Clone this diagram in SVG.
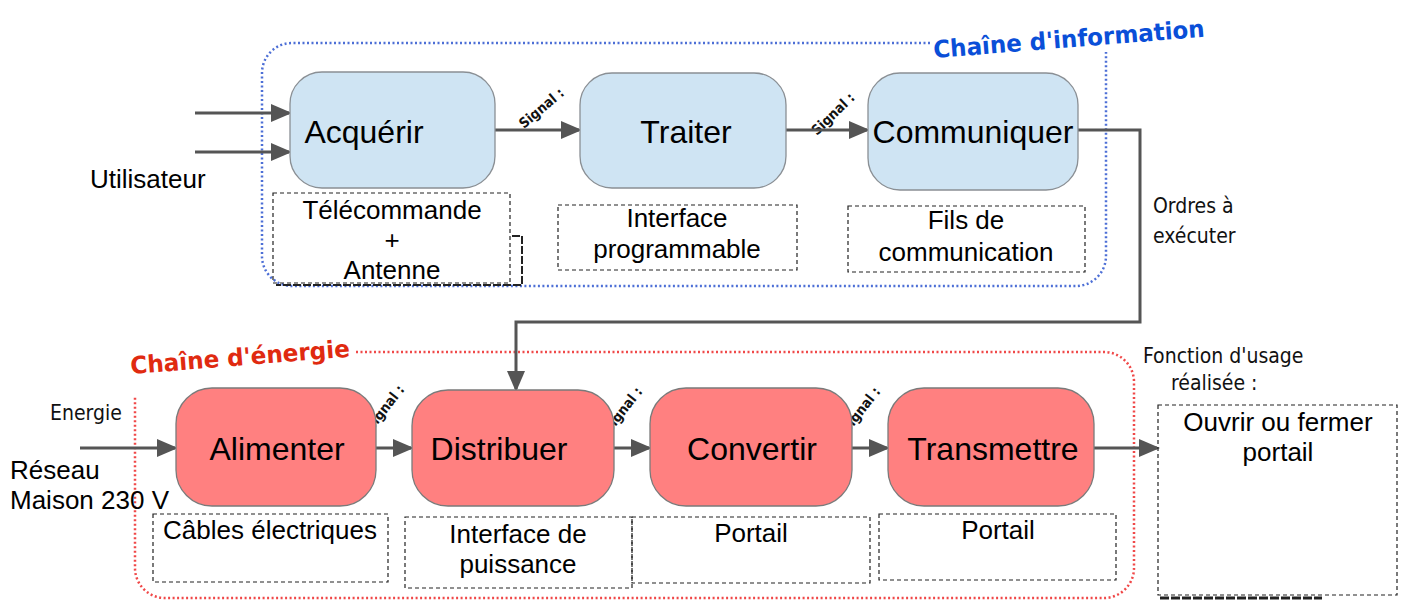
<svg xmlns="http://www.w3.org/2000/svg" width="1404" height="604" viewBox="0 0 1404 604">
<style>
.t{font-family:"Liberation Sans",Arial,sans-serif;fill:#000}
.nl{font-size:32px;text-anchor:middle}
.sl{font-size:26px;text-anchor:middle}
.px{font-family:"Liberation Sans Narrow","DejaVu Sans Condensed","Liberation Sans",sans-serif;font-size:21px;fill:#111}
.sig{font-family:"Liberation Sans Narrow","DejaVu Sans Condensed",sans-serif;font-size:14px;font-weight:bold;fill:#111}
.blue{fill:#cfe4f3;stroke:#8a8f94;stroke-width:1.3}
.red{fill:#ff8080;stroke:#7a7a7a;stroke-width:1.3}
.box{fill:none;stroke:#222;stroke-width:1.2;stroke-dasharray:4 3}
.wire{fill:none;stroke:#555;stroke-width:3}
.title{font-family:"DejaVu Sans Condensed","DejaVu Sans",sans-serif;font-weight:bold;font-size:24px}
</style>
<defs>
<marker id="ah" markerWidth="7" markerHeight="6" refX="6" refY="3" orient="auto" markerUnits="strokeWidth">
<path d="M0,0 L7,3 L0,6 Z" fill="#555"/>
</marker>
</defs>

<!-- chain boundaries -->
<g id="chaine-information">
<path d="M930,43 H292 A30,30 0 0 0 262,73 V256 A30,30 0 0 0 292,286 H1076 A30,30 0 0 0 1106,256 V52" fill="none" stroke="#4d6fd6" stroke-width="2.5" stroke-dasharray="2 2.5"/>
<text class="title" fill="#0a4fd8" x="934" y="58" transform="rotate(-4.5 934 58)" textLength="272" lengthAdjust="spacingAndGlyphs">Chaîne d'information</text>
</g>
<g id="chaine-energie">
<path d="M356,352 H1104 A30,30 0 0 1 1134,382 V568 A30,30 0 0 1 1104,598 H165 A30,30 0 0 1 135,568 V396" fill="none" stroke="#f04848" stroke-width="2.5" stroke-dasharray="2 2.5"/>
<text class="title" fill="#e02a10" x="131" y="374" transform="rotate(-4.5 131 374)" textLength="220" lengthAdjust="spacingAndGlyphs">Chaîne d'énergie</text>
</g>

<!-- signal labels (behind nodes) -->
<g id="signal-labels">
<text class="sig" x="524" y="129" transform="rotate(-40 524 129)">Signal :</text>
<text class="sig" x="817" y="136" transform="rotate(-44 817 136)">Signal :</text>
<text class="sig" x="372" y="432" transform="rotate(-52 372 432)">Signal :</text>
<text class="sig" x="610" y="434" transform="rotate(-52 610 434)">Signal :</text>
<text class="sig" x="848" y="434" transform="rotate(-52 848 434)">Signal :</text>
</g>

<!-- connectors -->
<g id="connectors">
<line class="wire" x1="195" y1="113" x2="289" y2="113" marker-end="url(#ah)"/>
<line class="wire" x1="195" y1="152" x2="289" y2="152" marker-end="url(#ah)"/>
<line class="wire" x1="495" y1="130" x2="579" y2="130" marker-end="url(#ah)"/>
<line class="wire" x1="786" y1="130" x2="867" y2="130" marker-end="url(#ah)"/>
<path class="wire" d="M1078,130 H1140 V322 H516 V389" marker-end="url(#ah)"/>
<line class="wire" x1="80" y1="448" x2="175" y2="448" marker-end="url(#ah)"/>
<line class="wire" x1="376" y1="448" x2="411" y2="448" marker-end="url(#ah)"/>
<line class="wire" x1="614" y1="448" x2="649" y2="448" marker-end="url(#ah)"/>
<line class="wire" x1="852" y1="448" x2="887" y2="448" marker-end="url(#ah)"/>
<line class="wire" x1="1094" y1="448" x2="1157" y2="448" marker-end="url(#ah)"/>
</g>

<!-- information chain nodes -->
<g id="acquerir">
<rect class="blue" x="290" y="72" width="205" height="116" rx="32"/>
<text class="t nl" x="364" y="143">Acquérir</text>
</g>
<g id="traiter">
<rect class="blue" x="580" y="73" width="206" height="115" rx="32"/>
<text class="t nl" x="686" y="143">Traiter</text>
</g>
<g id="communiquer">
<rect class="blue" x="868" y="73" width="210" height="117" rx="32"/>
<text class="t nl" x="973" y="143">Communiquer</text>
</g>

<!-- energy chain nodes -->
<g id="alimenter">
<rect class="red" x="176" y="388" width="200" height="118" rx="36"/>
<text class="t nl" x="277" y="460">Alimenter</text>
</g>
<g id="distribuer">
<rect class="red" x="412" y="390" width="202" height="116" rx="36"/>
<text class="t nl" x="499" y="460">Distribuer</text>
</g>
<g id="convertir">
<rect class="red" x="650" y="388" width="202" height="118" rx="36"/>
<text class="t nl" x="752" y="460">Convertir</text>
</g>
<g id="transmettre">
<rect class="red" x="888" y="388" width="206" height="118" rx="36"/>
<text class="t nl" x="993" y="460">Transmettre</text>
</g>

<!-- support boxes -->
<g id="box-telecommande">
<rect class="box" x="273" y="193" width="237" height="90"/>
<path d="M512,236 H522 V285 H276" fill="none" stroke="#222" stroke-width="2" stroke-dasharray="8 2"/>
<text class="t sl" x="392" y="219">Télécommande</text>
<text class="t sl" x="392" y="249">+</text>
<text class="t sl" x="392" y="279">Antenne</text>
</g>
<g id="box-interface-prog">
<rect class="box" x="558" y="205" width="239" height="65"/>
<text class="t sl" x="677" y="227">Interface</text>
<text class="t sl" x="677" y="258">programmable</text>
</g>
<g id="box-fils">
<rect class="box" x="848" y="206" width="237" height="66"/>
<text class="t sl" x="966" y="229">Fils de</text>
<text class="t sl" x="966" y="261">communication</text>
</g>
<g id="box-cables">
<rect class="box" x="153" y="514" width="235" height="68"/>
<text class="t sl" x="270" y="539">Câbles électriques</text>
</g>
<g id="box-interface-puiss">
<rect class="box" x="405" y="517" width="227" height="71"/>
<text class="t sl" x="518" y="543">Interface de</text>
<text class="t sl" x="518" y="573">puissance</text>
</g>
<g id="box-portail-1">
<rect class="box" x="632" y="517" width="238" height="66"/>
<text class="t sl" x="751" y="542">Portail</text>
</g>
<g id="box-portail-2">
<rect class="box" x="879" y="514" width="237" height="66"/>
<text class="t sl" x="998" y="539">Portail</text>
</g>
<g id="box-ouvrir">
<rect class="box" x="1158" y="405" width="239" height="190"/>
<line x1="1160" y1="598" x2="1322" y2="598" stroke="#222" stroke-width="3" stroke-dasharray="9 2"/>
<text class="t sl" x="1278" y="431">Ouvrir ou fermer</text>
<text class="t sl" x="1278" y="461">portail</text>
</g>

<!-- free labels -->
<g id="labels">
<text class="t" x="90" y="188" font-size="26">Utilisateur</text>
<text class="px" x="1153" y="213">Ordres à</text>
<text class="px" x="1153" y="243">exécuter</text>
<text class="px" x="50" y="420">Energie</text>
<text class="t" x="10" y="479" font-size="26">Réseau</text>
<text class="t" x="10" y="509" font-size="26">Maison 230 V</text>
<text class="px" x="1143" y="363">Fonction d'usage</text>
<text class="px" x="1171" y="390">réalisée :</text>
</g>
</svg>
